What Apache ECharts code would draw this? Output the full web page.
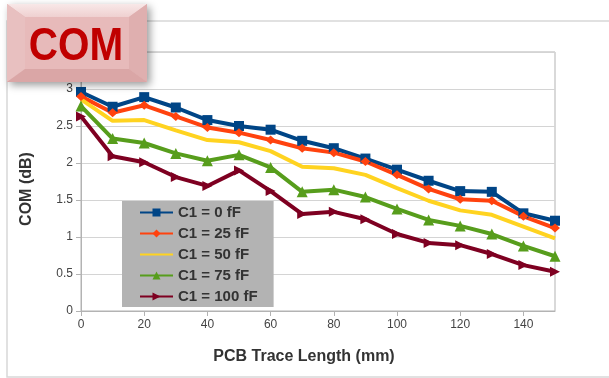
<!DOCTYPE html>
<html>
<head>
<meta charset="utf-8">
<script src="https://cdn.jsdelivr.net/npm/echarts@6/dist/echarts.min.js"></script>
<style>
  html, body { margin: 0; padding: 0; background: #ffffff; }
  #chart { width: 609px; height: 378px; }
</style>
</head>
<body>
<div id="chart"></div>
<script>
// PCB trace length (mm) at which COM was evaluated
const traceLength = [0, 10, 20, 30, 40, 50, 60, 70, 80, 90, 100, 110, 120, 130, 140, 150];

// COM (dB) for each C1 value
const com0fF   = [2.96, 2.76, 2.89, 2.75, 2.58, 2.50, 2.45, 2.30, 2.20, 2.06, 1.91, 1.76, 1.62, 1.61, 1.32, 1.22];
const com25fF  = [2.90, 2.68, 2.78, 2.63, 2.48, 2.41, 2.31, 2.20, 2.14, 2.02, 1.84, 1.65, 1.51, 1.49, 1.28, 1.12];
const com50fF  = [2.86, 2.57, 2.58, 2.44, 2.31, 2.28, 2.16, 1.95, 1.93, 1.84, 1.66, 1.49, 1.36, 1.30, 1.14, 0.98];
const com75fF  = [2.77, 2.33, 2.27, 2.13, 2.03, 2.11, 1.94, 1.61, 1.64, 1.54, 1.38, 1.23, 1.15, 1.04, 0.88, 0.74];
const com100fF = [2.63, 2.09, 2.01, 1.81, 1.69, 1.90, 1.62, 1.31, 1.34, 1.24, 1.04, 0.92, 0.89, 0.77, 0.62, 0.53];

const seriesNames = ['C1 = 0 fF', 'C1 = 25 fF', 'C1 = 50 fF', 'C1 = 75 fF', 'C1 = 100 fF'];
const xTickValues = [0, 20, 40, 60, 80, 100, 120, 140];

const pairs = (ys) => traceLength.map((x, i) => [x, ys[i]]);

const FONT = '"Liberation Sans", Arial, sans-serif';

const chart = echarts.init(document.getElementById('chart'), null, { renderer: 'canvas' });

function lineSeries(name, ys, color, symbol, size, hideSymbol) {
  return {
    name: name,
    type: 'line',
    data: pairs(ys),
    symbol: symbol,
    symbolSize: size,
    showSymbol: !hideSymbol,
    lineStyle: { color: color, width: 4 },
    itemStyle: { color: color, opacity: hideSymbol ? 0 : 1 },
    emphasis: { disabled: true },
    animation: false
  };
}

// pieces of the beveled "COM" badge (local coordinates, 140 x 78)
const Z = 100;
const badge = [
  {
    type: 'rect', z: Z,
    shape: { x: 0, y: 0, width: 140, height: 78 },
    style: {
      fill: '#e6b9b9',
      shadowBlur: 8, shadowOffsetX: 3, shadowOffsetY: 3,
      shadowColor: 'rgba(0,0,0,0.40)'
    }
  },
  { // top facet
    type: 'polygon', z: Z,
    shape: { points: [[0, 0], [140, 0], [122, 13], [18, 13]] },
    style: {
      fill: new echarts.graphic.LinearGradient(0, 0, 0, 1, [
        { offset: 0, color: '#f8e8e8' },
        { offset: 1, color: '#efd0d0' }
      ])
    }
  },
  { // left facet
    type: 'polygon', z: Z,
    shape: { points: [[0, 0], [18, 13], [18, 65], [0, 78]] },
    style: { fill: '#e8c0c0' }
  },
  { // right facet
    type: 'polygon', z: Z,
    shape: { points: [[140, 0], [140, 78], [122, 65], [122, 13]] },
    style: { fill: '#dfafaf' }
  },
  { // bottom facet
    type: 'polygon', z: Z,
    shape: { points: [[0, 78], [18, 65], [122, 65], [140, 78]] },
    style: { fill: '#daa6a6' }
  },
  { // front face
    type: 'rect', z: Z,
    shape: { x: 18, y: 13, width: 104, height: 52 },
    style: { fill: '#e7baba' }
  },
  {
    type: 'text', z: Z + 1,
    x: 69, y: 43, scaleX: 0.88,
    style: {
      text: 'COM',
      fill: '#c00000',
      font: 'bold 46px "Liberation Sans", Arial, sans-serif',
      align: 'center',
      verticalAlign: 'middle'
    }
  }
];

const option = {
  backgroundColor: '#ffffff',
  animation: false,
  graphic: [
    // light outer frame around the chart area
    {
      type: 'rect', z: -10,
      shape: { x: 7, y: 21, width: 610, height: 356 },
      style: { fill: 'none', stroke: '#d8d8d8', lineWidth: 1.5 }
    },
    { type: 'group', z: Z, x: 7, y: 4, children: badge }
  ],
  grid: {
    left: 81, right: 54, top: 52, bottom: 67,
    show: true, borderColor: '#b3b3b3', borderWidth: 1,
    backgroundColor: 'transparent'
  },
  legend: {
    orient: 'vertical',
    left: 122, top: 201,
    padding: [4, 16, 3, 17],
    backgroundColor: '#b3b3b3',
    itemWidth: 33, itemHeight: 10, itemGap: 6,
    data: seriesNames,
    textStyle: { fontFamily: FONT, fontSize: 15, fontWeight: 'bold', color: '#333333' },
    selectedMode: false
  },
  xAxis: {
    type: 'value',
    min: 0, max: 150, interval: 20,
    name: 'PCB Trace Length (mm)',
    nameLocation: 'middle',
    nameGap: 38,
    nameTextStyle: { fontFamily: FONT, fontSize: 16, fontWeight: 'bold', color: '#333333', padding: [0, 28, 0, 0] },
    axisLine: { show: true, lineStyle: { color: '#b3b3b3', width: 1 } },
    axisTick: { show: true, length: 5, lineStyle: { color: '#b3b3b3' }, customValues: xTickValues },
    axisLabel: { fontFamily: FONT, fontSize: 12, color: '#444444', margin: 8, customValues: xTickValues },
    splitLine: { show: false }
  },
  yAxis: {
    type: 'value',
    min: 0, max: 3.5, interval: 0.5,
    name: 'COM (dB)',
    nameLocation: 'middle',
    nameRotate: 90,
    nameGap: 46,
    nameTextStyle: { fontFamily: FONT, fontSize: 16, fontWeight: 'bold', color: '#333333', padding: [0, 15, 0, 0] },
    axisLine: { show: true, lineStyle: { color: '#b3b3b3', width: 1 } },
    axisTick: { show: true, length: 5, lineStyle: { color: '#b3b3b3' } },
    axisLabel: { fontFamily: FONT, fontSize: 12, color: '#444444', margin: 8, showMaxLabel: false },
    splitLine: { show: true, lineStyle: { color: '#d4d4d4', width: 1 } }
  },
  series: [
    lineSeries(seriesNames[0], com0fF, '#004586', 'rect', 10),
    lineSeries(seriesNames[1], com25fF, '#ff420e', 'path://M5,0 L10,5 L5,10 L0,5 Z', [10, 9]),
    lineSeries(seriesNames[2], com50fF, '#ffd320', 'circle', 1, true),
    lineSeries(seriesNames[3], com75fF, '#579d1c', 'triangle', 11),
    lineSeries(seriesNames[4], com100fF, '#7e0021', 'path://M0,0 L10,5 L0,10 Z', 10)
  ]
};

chart.setOption(option);
</script>
</body>
</html>
